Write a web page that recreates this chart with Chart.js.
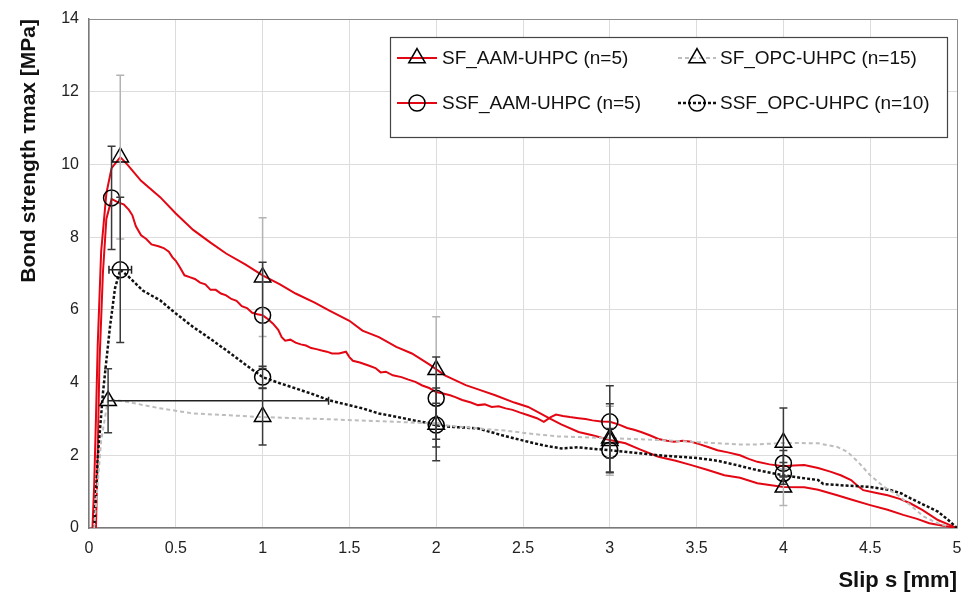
<!DOCTYPE html>
<html>
<head>
<meta charset="utf-8">
<script src="https://cdn.jsdelivr.net/npm/chart.js@4.4.0/dist/chart.umd.min.js"></script>
<style>
  html, body { margin: 0; padding: 0; background: #fff; }
</style>
</head>
<body>
<canvas id="bond" width="968" height="594"></canvas>
<script>
// --- curves (slip s [mm] / bond stress [MPa]) ---
const sfAamSlip = [0.02, 0.03, 0.04, 0.05, 0.07, 0.1, 0.13, 0.18, 0.22, 0.3, 0.41, 0.5, 0.6, 0.7, 0.79, 0.9, 1.0, 1.1, 1.19, 1.3, 1.385, 1.5, 1.575, 1.67, 1.77, 1.86, 1.96, 2.05, 2.17, 2.25, 2.34, 2.45, 2.53, 2.65, 2.72, 2.82, 2.9, 3.0, 3.09, 3.18, 3.28, 3.38, 3.47, 3.56, 3.66, 3.75, 3.85, 4.0, 4.12, 4.2, 4.31, 4.4, 4.5, 4.6, 4.69, 4.77, 4.84, 4.92, 5.0];
const sfAamTau = [0, 1.2, 3.0, 5.0, 7.6, 9.2, 9.9, 10.2, 10.0, 9.55, 9.1, 8.65, 8.2, 7.85, 7.55, 7.25, 6.95, 6.7, 6.45, 6.2, 5.98, 5.7, 5.43, 5.25, 4.98, 4.8, 4.5, 4.2, 3.93, 3.8, 3.65, 3.45, 3.33, 3.02, 2.85, 2.64, 2.55, 2.42, 2.33, 2.15, 1.96, 1.85, 1.73, 1.6, 1.45, 1.38, 1.23, 1.13, 1.12, 1.05, 0.9, 0.77, 0.63, 0.5, 0.36, 0.25, 0.13, 0.06, 0];

const ssfAamSlip = [0.04, 0.05, 0.06, 0.08, 0.1, 0.13, 0.17, 0.2, 0.23, 0.25, 0.27, 0.3, 0.33, 0.36, 0.4, 0.43, 0.46, 0.48, 0.5, 0.52, 0.55, 0.58, 0.61, 0.64, 0.67, 0.7, 0.73, 0.76, 0.79, 0.82, 0.85, 0.88, 0.91, 0.94, 0.97, 1.0, 1.03, 1.06, 1.09, 1.11, 1.13, 1.16, 1.19, 1.22, 1.25, 1.28, 1.31, 1.34, 1.37, 1.4, 1.44, 1.48, 1.5, 1.52, 1.56, 1.61, 1.65, 1.68, 1.71, 1.75, 1.8, 1.84, 1.88, 1.92, 1.96, 2.0, 2.04, 2.08, 2.11, 2.15, 2.2, 2.24, 2.28, 2.32, 2.36, 2.4, 2.44, 2.48, 2.53, 2.58, 2.62, 2.66, 2.69, 2.73, 2.77, 2.82, 2.86, 2.9, 2.95, 3.0, 3.05, 3.1, 3.14, 3.18, 3.23, 3.28, 3.33, 3.37, 3.42, 3.47, 3.52, 3.57, 3.62, 3.68, 3.75, 3.8, 3.85, 3.92, 4.0, 4.06, 4.12, 4.2, 4.27, 4.33, 4.39, 4.43, 4.46, 4.53, 4.6, 4.67, 4.73, 4.8, 4.89, 4.95, 5.0];
const ssfAamTau = [0, 2.0, 4.5, 7.0, 8.5, 9.05, 8.95, 8.9, 8.75, 8.6, 8.3, 8.05, 7.95, 7.8, 7.75, 7.7, 7.6, 7.45, 7.35, 7.2, 6.95, 6.9, 6.85, 6.75, 6.7, 6.55, 6.55, 6.45, 6.4, 6.3, 6.25, 6.1, 6.05, 5.92, 5.88, 5.85, 5.75, 5.62, 5.45, 5.25, 5.15, 5.18, 5.1, 5.05, 5.02, 4.95, 4.92, 4.88, 4.85, 4.8, 4.8, 4.85, 4.7, 4.6, 4.55, 4.47, 4.4, 4.28, 4.3, 4.2, 4.15, 4.08, 4.02, 3.92, 3.85, 3.74, 3.7, 3.65, 3.6, 3.52, 3.45, 3.38, 3.4, 3.33, 3.35, 3.29, 3.25, 3.18, 3.1, 3.02, 2.92, 3.05, 3.12, 3.08, 3.05, 3.02, 3.0, 2.96, 2.93, 2.92, 2.85, 2.75, 2.7, 2.64, 2.55, 2.45, 2.4, 2.37, 2.4, 2.37, 2.3, 2.22, 2.14, 2.08, 2.0, 1.9, 1.82, 1.75, 1.7, 1.72, 1.73, 1.65, 1.55, 1.45, 1.32, 1.15, 1.04, 0.97, 0.9, 0.8, 0.68, 0.5, 0.22, 0.1, 0];

const sfOpcSlip = [0.03, 0.07, 0.11, 0.22, 0.4, 0.6, 0.81, 1.0, 1.2, 1.385, 1.6, 1.77, 1.96, 2.1, 2.24, 2.4, 2.53, 2.7, 2.82, 3.0, 3.28, 3.47, 3.74, 3.85, 4.0, 4.2, 4.31, 4.37, 4.43, 4.5, 4.58, 4.66, 4.73, 4.81, 4.89, 4.95];
const sfOpcTau = [0, 2.4, 3.55, 3.47, 3.3, 3.15, 3.1, 3.05, 3.02, 2.99, 2.95, 2.92, 2.88, 2.8, 2.74, 2.68, 2.6, 2.52, 2.5, 2.47, 2.42, 2.37, 2.3, 2.3, 2.34, 2.33, 2.23, 2.09, 1.82, 1.45, 1.13, 0.9, 0.63, 0.31, 0.13, 0.04];

const ssfOpcSlip = [0.03, 0.05, 0.08, 0.12, 0.15, 0.18, 0.22, 0.31, 0.41, 0.5, 0.6, 0.7, 0.79, 0.9, 1.0, 1.1, 1.19, 1.29, 1.385, 1.48, 1.575, 1.67, 1.77, 1.86, 1.96, 2.0, 2.1, 2.24, 2.38, 2.53, 2.62, 2.72, 2.82, 2.9, 3.0, 3.14, 3.28, 3.4, 3.51, 3.62, 3.74, 3.85, 4.0, 4.1, 4.2, 4.23, 4.35, 4.5, 4.62, 4.68, 4.73, 4.8, 4.89, 4.95, 5.0];
const ssfOpcTau = [0, 1.9, 3.7, 5.5, 6.6, 7.1, 6.95, 6.53, 6.26, 5.9, 5.53, 5.2, 4.89, 4.5, 4.15, 3.98, 3.84, 3.68, 3.51, 3.4, 3.29, 3.15, 3.06, 2.97, 2.88, 2.82, 2.78, 2.74, 2.55, 2.37, 2.27, 2.19, 2.22, 2.18, 2.14, 2.07, 2.0, 1.96, 1.92, 1.85, 1.72, 1.59, 1.45, 1.38, 1.32, 1.21, 1.17, 1.13, 1.04, 0.95, 0.82, 0.66, 0.45, 0.22, 0];

// --- mean values with scatter (markers + error bars) ---
const sfAamMx = [0.18, 1, 2, 3, 4];
const sfAamMy = [10.2, 6.9, 4.35, 2.4, 1.12];
const sfAamErr = [2.25, 1.63, 1.46, 0.95, 0.5];

const ssfAamMx = [0.13, 1, 2, 3, 4];
const ssfAamMy = [9.08, 5.85, 3.57, 2.92, 1.78];
const ssfAamErr = [1.42, 1.46, 1.13, 0.99, 0.35];

const sfOpcMx = [0.11, 1, 2, 3, 4];
const sfOpcMy = [3.5, 3.06, 2.85, 2.47, 2.35];
const sfOpcErr = [0.88, 0.78, 1.0, 0.95, 0.95];
const sfOpcXErrPlus = [1.27, 0, 0, 0, 0];
const sfOpcXErrMinus = [0, 0, 0, 0, 0];

const ssfOpcMx = [0.18, 1, 2, 3, 4];
const ssfOpcMy = [7.1, 4.15, 2.83, 2.14, 1.5];
const ssfOpcErr = [2.0, 0.3, 0.6, 0.6, 0.3];
const ssfOpcXErrPlus = [0.065, 0, 0, 0, 0];
const ssfOpcXErrMinus = [0.065, 0, 0, 0, 0];

const xTicksStep = 0.5;
const yTicksStep = 2;

const pts = (xs, ys) => xs.map((x, i) => ({ x: x, y: ys[i] }));

const RED = "#e30613";

// series description (legend + error bar style)
const series = [
  { label: "SF_AAM-UHPC (n=5)", color: RED, dash: [], width: 2, marker: "triangle",
    mx: sfAamMx, my: sfAamMy, err: sfAamErr, errColor: "#b3b3b3" },
  { label: "SF_OPC-UHPC (n=15)", color: "#bdbdbd", dash: [4, 3], width: 2, marker: "triangle",
    mx: sfOpcMx, my: sfOpcMy, err: sfOpcErr, errColor: "#3a3a3a", xp: sfOpcXErrPlus, xm: sfOpcXErrMinus },
  { label: "SSF_AAM-UHPC (n=5)", color: RED, dash: [], width: 2, marker: "circle",
    mx: ssfAamMx, my: ssfAamMy, err: ssfAamErr, errColor: "#3a3a3a" },
  { label: "SSF_OPC-UHPC (n=10)", color: "#111", dash: [3, 2], width: 2.5, marker: "circle",
    mx: ssfOpcMx, my: ssfOpcMy, err: ssfOpcErr, errColor: "#3a3a3a", xp: ssfOpcXErrPlus, xm: ssfOpcXErrMinus },
];

const markerRadius = { triangle: 9.5, circle: 8 };

// Error bars drawn from the scales
const errorBars = {
  id: "errorBars",
  afterDatasetsDraw(chart) {
    const { ctx, scales: { x, y } } = chart;
    ctx.save();
    ctx.lineWidth = 1.5;
    series.forEach((s) => {
      ctx.strokeStyle = s.errColor;
      s.mx.forEach((mx, i) => {
        const px = x.getPixelForValue(mx);
        const top = y.getPixelForValue(s.my[i] + s.err[i]);
        const bot = y.getPixelForValue(s.my[i] - s.err[i]);
        ctx.beginPath();
        ctx.moveTo(px, top); ctx.lineTo(px, bot);
        ctx.moveTo(px - 4, top); ctx.lineTo(px + 4, top);
        ctx.moveTo(px - 4, bot); ctx.lineTo(px + 4, bot);
        ctx.stroke();
        if (s.xp && (s.xp[i] || s.xm[i])) {
          const py = y.getPixelForValue(s.my[i]);
          const l = x.getPixelForValue(mx - s.xm[i]);
          const r = x.getPixelForValue(mx + s.xp[i]);
          ctx.strokeStyle = "#222";
          ctx.beginPath();
          ctx.moveTo(l, py); ctx.lineTo(r, py);
          ctx.moveTo(r, py - 4); ctx.lineTo(r, py + 4);
          if (s.xm[i]) { ctx.moveTo(l, py - 4); ctx.lineTo(l, py + 4); }
          ctx.stroke();
          ctx.strokeStyle = s.errColor;
        }
      });
    });
    ctx.restore();
  },
};

// plot frame + custom legend
const frameLegend = {
  id: "frameLegend",
  afterDraw(chart) {
    const { ctx, chartArea: a } = chart;
    ctx.save();
    ctx.strokeStyle = "#8c8c8c";
    ctx.lineWidth = 1;
    ctx.beginPath();
    ctx.moveTo(a.left, a.top + 0.5); ctx.lineTo(a.right + 0.5, a.top + 0.5);
    ctx.lineTo(a.right + 0.5, a.bottom);
    ctx.stroke();

    // legend box
    ctx.fillStyle = "#fff";
    ctx.fillRect(390, 37, 557, 100);
    ctx.strokeStyle = "#444";
    ctx.lineWidth = 1.2;
    ctx.strokeRect(390.5, 37.5, 557, 100);

    const cols = [{ l: 397, r: 437, t: 442 }, { l: 678, r: 716, t: 720 }];
    const rows = [58, 103];
    ctx.font = "19px 'Liberation Sans', Arial, sans-serif";
    ctx.textBaseline = "middle";
    series.forEach((s, i) => {
      const c = cols[i % 2];
      const yy = rows[Math.floor(i / 2)];
      ctx.strokeStyle = s.color;
      ctx.lineWidth = s.width;
      ctx.setLineDash(s.dash);
      ctx.beginPath();
      ctx.moveTo(c.l, yy); ctx.lineTo(c.r, yy);
      ctx.stroke();
      ctx.setLineDash([]);
      ctx.strokeStyle = "#000";
      ctx.lineWidth = 1.5;
      ctx.fillStyle = "rgba(0,0,0,0)";
      Chart.helpers.drawPoint(ctx, {
        pointStyle: s.marker, radius: markerRadius[s.marker], rotation: 0, borderWidth: 1.5,
      }, (c.l + c.r) / 2, yy);
      ctx.fillStyle = "#111";
      ctx.fillText(s.label, c.t, yy + 1);
    });
    ctx.restore();
  },
};

const curveSets = [
  { data: pts(sfOpcSlip, sfOpcTau), s: series[1] },
  { data: pts(ssfOpcSlip, ssfOpcTau), s: series[3] },
  { data: pts(ssfAamSlip, ssfAamTau), s: series[2] },
  { data: pts(sfAamSlip, sfAamTau), s: series[0] },
].map((c) => ({
  label: c.s.label,
  data: c.data,
  showLine: true,
  borderColor: c.s.color,
  borderWidth: c.s.width,
  borderDash: c.s.dash,
  pointRadius: 0,
  tension: 0,
  order: 2,
}));

const markerSets = series.map((s) => ({
  label: s.label + " mean",
  data: pts(s.mx, s.my),
  showLine: false,
  pointStyle: s.marker,
  pointRadius: markerRadius[s.marker],
  pointBorderColor: "#000",
  pointBackgroundColor: "rgba(0,0,0,0)",
  pointBorderWidth: 1.5,
  order: 1,
}));

const tickFont = { family: "'Liberation Sans', Arial, sans-serif", size: 16 };
const fam = "'Liberation Sans', Arial, sans-serif";

new Chart(document.getElementById("bond"), {
  type: "scatter",
  data: { datasets: curveSets.concat(markerSets) },
  options: {
    responsive: false,
    animation: false,
    layout: { padding: { top: 19, right: 9, left: 0, bottom: 0 } },
    plugins: { legend: { display: false }, tooltip: { enabled: false } },
    scales: {
      x: {
        type: "linear", min: 0, max: 5,
        ticks: { stepSize: xTicksStep, color: "#222", font: tickFont, padding: 11, maxRotation: 0,
          callback: (v) => String(+v.toFixed(1)) },
        grid: { color: "#dcdcdc", drawTicks: false },
        border: { color: "#7a7a7a", width: 1.5 },
        title: { display: true, text: "Slip s [mm]", align: "end", color: "#111",
          font: { family: fam, size: 22, weight: "bold" }, padding: { top: 0, bottom: 0 } },
        afterFit(scale) { scale.height = 66; scale.paddingRight = 0; scale.paddingLeft = 0; },
      },
      y: {
        type: "linear", min: 0, max: 14,
        ticks: { stepSize: yTicksStep, color: "#222", font: tickFont, padding: 10 },
        grid: { color: "#dcdcdc", drawTicks: false },
        border: { color: "#7a7a7a", width: 1.5 },
        title: { display: true, text: "Bond strength τmax [MPa]", align: "end", color: "#111",
          font: { family: fam, size: 21, weight: "bold" }, padding: { top: 17, bottom: 0 } },
        afterFit(scale) { scale.width = 89; scale.paddingTop = 0; scale.paddingBottom = 0; },
      },
    },
  },
  plugins: [errorBars, frameLegend],
});
</script>
</body>
</html>
